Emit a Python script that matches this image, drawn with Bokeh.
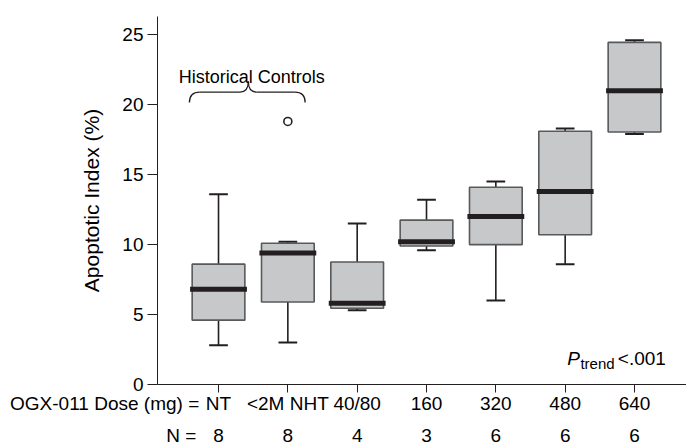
from bokeh.plotting import figure
from bokeh.models import Range1d, LinearAxis, FixedTicker, Label
from bokeh.embed import file_html
from bokeh.resources import INLINE

# ---- data ----
doses = ["NT", "<2M NHT", "40/80", "160", "320", "480", "640"]
n_values = ["8", "8", "4", "3", "6", "6", "6"]
whisker_low = [2.8, 3.0, 5.3, 9.6, 6.0, 8.6, 17.9]
q1 = [4.6, 5.9, 5.45, 9.9, 10.0, 10.7, 18.05]
median = [6.8, 9.4, 5.8, 10.2, 12.0, 13.8, 21.0]
q3 = [8.6, 10.1, 8.75, 11.75, 14.1, 18.1, 24.45]
whisker_high = [13.6, 10.2, 11.5, 13.2, 14.5, 18.3, 24.6]
outlier_group = [1]
outlier_value = [18.8]
y_ticks = [0, 5, 10, 15, 20, 25]
dose_prefix = "OGX-011 Dose (mg) ="
n_prefix = "N ="

FONT = "Liberation Sans"
INK = "#231f20"
NBSP = "\u00a0"

idx = list(range(len(doses)))
prefix_tick = -0.5   # anchor (inside the frame) for the right-aligned row prefixes

p = figure(width=686, height=448, output_backend="svg", toolbar_location=None,
           x_range=Range1d(-0.88, 6.75), y_range=Range1d(0, 26.3))
p.min_border_left = 157
p.min_border_right = 0
p.min_border_top = 16
p.min_border_bottom = 64
p.outline_line_color = None
p.grid.visible = False
p.background_fill_color = "white"
p.border_fill_color = "white"

# whiskers
p.segment(x0=idx, y0=q3, x1=idx, y1=whisker_high, line_color=INK, line_width=1.6)
p.segment(x0=idx, y0=q1, x1=idx, y1=whisker_low, line_color=INK, line_width=1.6)
cap = 0.135
p.segment(x0=[i - cap for i in idx], y0=whisker_high, x1=[i + cap for i in idx], y1=whisker_high,
          line_color=INK, line_width=2)
p.segment(x0=[i - cap for i in idx], y0=whisker_low, x1=[i + cap for i in idx], y1=whisker_low,
          line_color=INK, line_width=2)
# boxes
p.vbar(x=idx, width=0.76, bottom=q1, top=q3, fill_color="#c7c8ca",
       line_color="#58595b", line_width=1.6)
# medians
mh = 0.41
p.segment(x0=[i - mh for i in idx], y0=median, x1=[i + mh for i in idx], y1=median,
          line_color=INK, line_width=5)
# outlier
p.scatter(x=outlier_group, y=outlier_value, marker="circle", size=8,
          fill_color="white", line_color=INK, line_width=1.6)

# brace over historical controls
bl, bc, br = -0.42, 0.43, 1.25
yb, yh, yp = 20.15, 20.9, 21.65
a, a2 = 0.15, 0.12
p.quadratic(x0=[bl, bc - a2, bc, br - a], y0=[yb, yh, yp, yh],
            x1=[bl + a, bc, bc + a2, br], y1=[yh, yp, yh, yb],
            cx=[bl, bc, bc, br], cy=[yh, yh, yh, yh], line_color=INK, line_width=1.3)
p.segment(x0=[bl + a, bc + a2], y0=[yh, yh], x1=[bc - a2, br - a], y1=[yh, yh],
          line_color=INK, line_width=1.3)
p.add_layout(Label(x=0.48, y=21.95, text="Historical Controls", text_align="center",
                   text_baseline="alphabetic", text_font=FONT, text_font_size="18px",
                   text_color="black"))

# P trend
p.add_layout(Label(x=5.03, y=1.84, text="P", text_font=FONT, text_font_size="19px",
                   text_font_style="italic", text_baseline="alphabetic", text_color="black"))
p.add_layout(Label(x=5.22, y=1.48, text="trend", text_font=FONT, text_font_size="15px",
                   text_baseline="alphabetic", text_color="black"))
p.add_layout(Label(x=5.76, y=1.84, text="<.001", text_font=FONT, text_font_size="19px",
                   text_baseline="alphabetic", text_color="black"))

# y axis
ya = p.yaxis[0]
ya.ticker = FixedTicker(ticks=y_ticks)
ya.axis_label = "Apoptotic Index (%)"
ya.axis_label_text_font = FONT
ya.axis_label_text_font_size = "21px"
ya.axis_label_text_font_style = "normal"
ya.axis_label_text_color = "black"
ya.axis_label_standoff = 16
ya.major_label_text_font = FONT
ya.major_label_text_font_size = "19px"
ya.major_label_text_color = "black"
ya.major_tick_out = 10
ya.major_tick_in = 0
ya.minor_tick_line_color = None
ya.axis_line_color = INK
ya.major_tick_line_color = INK
ya.major_label_standoff = 4

# x axis (doses): visible tick marks are the minor ticks at the categories,
# the invisible major tick at prefix_tick carries the right-aligned row prefix
xa = p.xaxis[0]
xa.ticker = FixedTicker(ticks=[prefix_tick] + idx, minor_ticks=idx)
overrides = {i: d for i, d in zip(idx, doses)}
overrides[prefix_tick] = dose_prefix + NBSP * 30
xa.major_label_overrides = overrides
xa.major_label_text_font = FONT
xa.major_label_text_font_size = "19px"
xa.major_label_text_color = "black"
xa.major_tick_out = 8
xa.major_tick_in = 0
xa.major_tick_line_color = None
xa.minor_tick_out = 8
xa.minor_tick_in = 0
xa.minor_tick_line_color = INK
xa.minor_tick_line_width = 1
xa.axis_line_color = INK
xa.major_label_standoff = 0

# N row axis
n_over = {i: n for i, n in zip(idx, n_values)}
n_over[prefix_tick] = n_prefix + NBSP * 1
na = LinearAxis(ticker=FixedTicker(ticks=[prefix_tick] + idx),
                major_label_overrides=n_over)
na.axis_line_color = None
na.major_tick_line_color = None
na.minor_tick_line_color = None
na.major_tick_out = 0
na.major_tick_in = 0
na.major_label_standoff = 8
na.major_label_text_font = FONT
na.major_label_text_font_size = "19px"
na.major_label_text_color = "black"
p.add_layout(na, "below")

open("out.html", "w").write(file_html(p, INLINE))
